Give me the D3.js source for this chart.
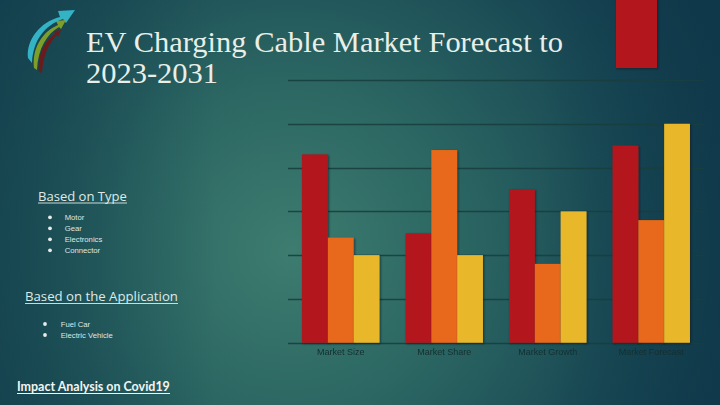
<!DOCTYPE html>
<html><head><meta charset="utf-8">
<script src="https://cdn.jsdelivr.net/npm/d3@7"></script>
<style>html,body{margin:0;padding:0;background:#1b4d55;}svg{display:block;}</style>
</head><body>
<svg id="c" width="720" height="405"></svg>
<script>
const categories = ["Market Size", "Market Share", "Market Growth", "Market Forecast"];
const series1 = [4.3, 2.5, 3.5, 4.5];
const series2 = [2.4, 4.4, 1.8, 2.8];
const series3 = [2.0, 2.0, 3.0, 5.0];
const seriesColors = ["#b3171a", "#e8691a", "#e8b72c"];
const yTicks = [0, 1, 2, 3, 4, 5, 6];
const typeItems = ["Motor", "Gear", "Electronics", "Connector"];
const appItems = ["Fuel Car", "Electric Vehicle"];
const titleLines = ["EV Charging Cable Market Forecast to", "2023-2031"];

const svg = d3.select("#c");
const defs = svg.append("defs");
const rg = defs.append("radialGradient").attr("id", "bg").attr("gradientUnits", "userSpaceOnUse")
  .attr("cx", 290).attr("cy", 250).attr("r", 470).attr("fx", 290).attr("fy", 250);
rg.append("stop").attr("offset", "0").attr("stop-color", "#3d7c6f");
rg.append("stop").attr("offset", "0.35").attr("stop-color", "#2c6763");
rg.append("stop").attr("offset", "0.7").attr("stop-color", "#1a4b55");
rg.append("stop").attr("offset", "1").attr("stop-color", "#10364a");
const sh = defs.append("filter").attr("id", "sh").attr("x", "-20%").attr("y", "-10%").attr("width", "140%").attr("height", "120%");
sh.append("feDropShadow").attr("dx", 1).attr("dy", 1).attr("stdDeviation", 0.8).attr("flood-color", "#0a1e20").attr("flood-opacity", 0.7);
const bl = defs.append("filter").attr("id", "bl");
bl.append("feGaussianBlur").attr("stdDeviation", 0.45);

svg.append("rect").attr("width", 720).attr("height", 405).attr("fill", "url(#bg)");
const lg = defs.append("linearGradient").attr("id", "lg").attr("x1", 0).attr("x2", 1).attr("y1", 0).attr("y2", 0);
lg.append("stop").attr("offset", "0").attr("stop-color", "#123f4c").attr("stop-opacity", 0.6);
lg.append("stop").attr("offset", "0.3").attr("stop-color", "#123f4c").attr("stop-opacity", 0);
lg.append("stop").attr("offset", "0.75").attr("stop-color", "#0f3a4a").attr("stop-opacity", 0);
lg.append("stop").attr("offset", "1").attr("stop-color", "#0f3a4a").attr("stop-opacity", 0.6);
svg.append("rect").attr("width", 720).attr("height", 405).attr("fill", "url(#lg)");

// chart
const x0 = d3.scaleBand().domain(categories).range([289, 703]).paddingInner(0.252).paddingOuter(0.126);
const keys = [0, 1, 2];
const x1 = d3.scaleBand().domain(keys).range([0, x0.bandwidth()]);
const y = d3.scaleLinear().domain([0, 6]).range([342.7, 80]);
const data = categories.map((c, i) => ({ cat: c, vals: [series1[i], series2[i], series3[i]] }));

svg.append("g").selectAll("line").data(yTicks).join("line")
  .attr("x1", 288).attr("x2", 703)
  .attr("y1", d => Math.round(y(d)) + 0.5).attr("y2", d => Math.round(y(d)) + 0.5)
  .attr("stroke", "#183f3f").attr("stroke-width", 1.3).attr("opacity", 0.9);

// decorative legend swatch (top, cut off)
svg.append("rect").attr("x", 616).attr("y", -5).attr("width", 41).attr("height", 73)
  .attr("fill", seriesColors[0]).attr("filter", "url(#sh)");

const g = svg.append("g").selectAll("g").data(data).join("g")
  .attr("transform", d => `translate(${x0(d.cat)},0)`);
g.selectAll("rect").data(d => d.vals.map((v, k) => ({ v, k }))).join("rect")
  .attr("x", d => x1(d.k)).attr("width", x1.bandwidth())
  .attr("y", d => y(d.v)).attr("height", d => y(0) - y(d.v))
  .attr("fill", d => seriesColors[d.k]).attr("filter", "url(#sh)");

const xAxis = svg.append("g").attr("transform", `translate(0,${y(0)})`)
  .call(d3.axisBottom(x0).tickSize(0).tickPadding(5.5));
xAxis.select(".domain").remove();
xAxis.selectAll("text").attr("font-family", "Liberation Sans, Arial, sans-serif").attr("font-size", 9)
  .attr("fill", "#142f30").attr("filter", "url(#bl)");

// logo
const logo = svg.append("g");
logo.append("path").attr("d", "M28,58 C26,40 40,22 60,17 L58,11 L75,10 L66,23 L63,19 C45,25 33,40 32,63 Z").attr("fill", "#35b3c6");
logo.append("path").attr("d", "M34,68 C32,48 42,32 58,25 L56,21 L66,20 L61,29 L59,27 C47,34 38,48 37,70 Z").attr("fill", "#7d9f2a");
logo.append("path").attr("d", "M39,72 C37,55 45,40 55,34 L54,31 L61,30 L58,37 L57,35 C49,43 43,55 42,73 Z").attr("fill", "#6a1c1c");

// title
const title = svg.append("g").attr("font-family", "Liberation Serif, DejaVu Serif, serif").attr("fill", "#e8efe9");
const t1 = title.append("text").attr("x", 86).attr("y", 52).text(titleLines[0]).attr("font-size", 27);
const w = t1.node().getComputedTextLength();
const fs = 27 * 477 / w;
t1.attr("font-size", fs);
title.append("text").attr("x", 86).attr("y", 83).attr("font-size", fs).text(titleLines[1]);

// left text
function heading(txt, x, yb, target) {
  const t = svg.append("text").attr("x", x).attr("y", yb).attr("font-family", "Open Sans, Lato, sans-serif")
    .attr("font-size", 13).attr("fill", "#dfeae6").text(txt);
  const ww = t.node().getComputedTextLength();
  t.attr("font-size", 13 * target / ww);
  svg.append("line").attr("x1", x).attr("x2", x + target).attr("y1", yb + 2.5).attr("y2", yb + 2.5)
    .attr("stroke", "#dfeae6").attr("stroke-width", 0.9);
}
heading("Based on Type", 38, 200.5, 89);
heading("Based on the Application", 25, 301, 153);

function bullets(items, bx, tx, y0) {
  items.forEach((it, i) => {
    const yy = y0 + i * 11;
    svg.append("circle").attr("cx", bx).attr("cy", yy).attr("r", 1.9).attr("fill", "#e6ece9");
    svg.append("text").attr("x", tx).attr("y", yy + 2.7).attr("font-family", "Liberation Sans, Arial, sans-serif")
      .attr("font-size", 7.7).attr("fill", "#dfe7e4").text(it);
  });
}
bullets(typeItems, 50, 64.7, 217.3);
bullets(appItems, 45, 60.7, 324);

const imp = svg.append("text").attr("x", 17).attr("y", 391).attr("font-family", "Lato, Open Sans, sans-serif")
  .attr("font-weight", "bold").attr("font-size", 12).attr("fill", "#f2f5f3").text("Impact Analysis on Covid19");
const iw = imp.node().getComputedTextLength();
imp.attr("font-size", 12 * 153 / iw);
svg.append("line").attr("x1", 17).attr("x2", 170).attr("y1", 393.5).attr("y2", 393.5).attr("stroke", "#f2f5f3").attr("stroke-width", 1);
</script>
</body></html>
